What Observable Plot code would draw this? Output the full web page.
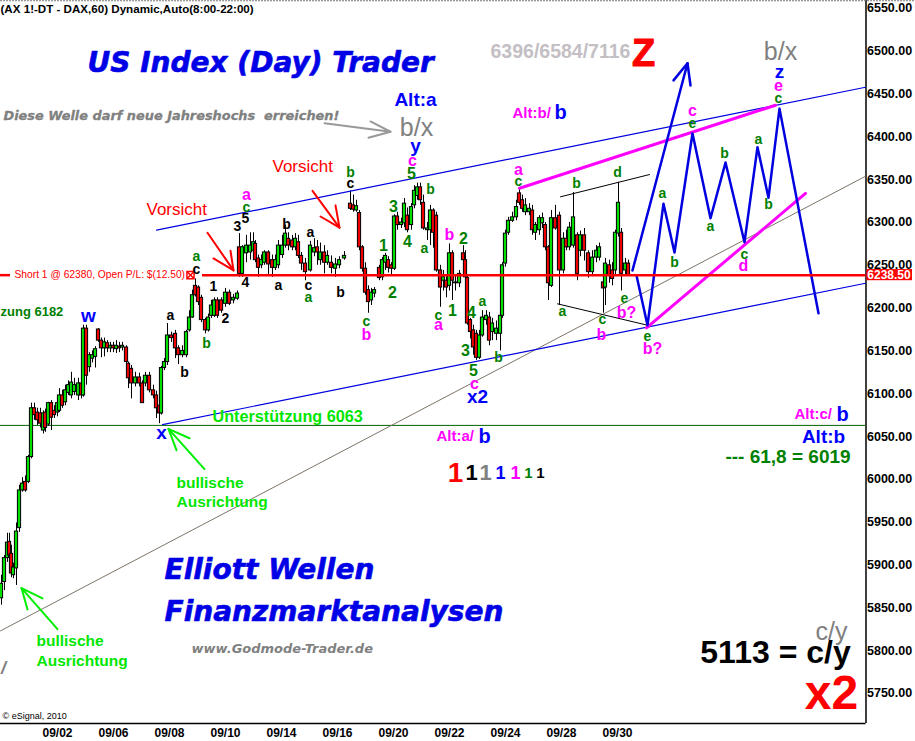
<!DOCTYPE html>
<html><head><meta charset="utf-8">
<script src="https://cdn.jsdelivr.net/npm/d3@7"></script>
<script src="https://cdn.jsdelivr.net/npm/@observablehq/plot@0.6"></script>
<style>html,body{margin:0;padding:0;background:#fff;overflow:hidden}svg{display:block}</style>
</head><body><div id="chart"></div>
<script>
// hourly bars: [bar number, open, high, low, close]
const barsEarly=[[0.5,5861,5888,5853,5878],[2,5880,5911,5870,5908],[3.5,5908,5937,5903,5926],[4.5,5927,5937,5903,5911],[5.5,5913,5923,5885,5890],[6.5,5888,5902,5884,5897],[8,5896,5949,5876,5939],[9.5,5943,5993,5938,5987],[11,5987,6002,5985,5995],[12.5,5997,6004,5985,5987],[14,5997,6028,5995,6026],[15.5,6026,6089,6024,6083],[17,6083,6089,6069,6075],[18.5,6078,6083,6063,6069],[20,6077,6083,6060,6065],[21.5,6057,6080,6053,6077],[22.5,6078,6082,6055,6060],[24,6064,6090,6062,6089],[25.5,6089,6092,6057,6072],[27,6080,6086,6071,6075],[28.5,6078,6095,6073,6089],[29.5,6080,6106,6078,6098],[31,6098,6104,6083,6086],[32.5,6090,6110,6086,6104],[34,6101,6115,6098,6110],[35.5,6098,6125,6094,6113],[37,6102,6118,6098,6110],[39,6098,6118,6092,6112],[40.5,6112,6118,6094,6098],[41.5,6098,6180,6096,6176],[43,6176,6180,6110,6121],[44.5,6131,6148,6125,6145],[46,6141,6150,6136,6145],[47.5,6143,6155,6130,6152],[49,6175,6176,6160,6162],[50.5,6162,6165,6142,6153],[52,6153,6165,6143,6160],[53.5,6159,6162,6148,6153],[55,6153,6160,6148,6156],[56.5,6156,6160,6148,6153],[58,6152,6162,6147,6156],[59.5,6155,6160,6148,6153],[61,6154,6160,6150,6156],[63,6154,6156,6134,6137],[64,6135,6137,6106,6118],[65.5,6129,6133,6094,6112],[67.5,6112,6125,6108,6119],[69.5,6119,6124,6108,6112],[71,6112,6115,6089,6089],[72.5,6112,6125,6108,6121],[74.5,6121,6125,6101,6104],[76.5,6104,6110,6094,6098],[78,6098,6103,6071,6083],[79.5,6086,6092,6065,6077],[80.5,6077,6132,6075,6130],[82,6130,6141,6127,6137],[83.5,6137,6182,6133,6168],[85.5,6168,6172,6160,6165],[87.5,6170,6174,6141,6153],[89,6153,6156,6134,6145],[91,6145,6156,6142,6150],[93,6145,6174,6142,6172],[94.5,6174,6197,6172,6189],[96,6189,6221,6188,6215],[97.5,6226,6234,6213,6215],[99,6224,6226,6203,6207],[100.5,6212,6215,6183,6186],[102.5,6186,6188,6170,6174],[104,6174,6193,6172,6189],[105.5,6191,6209,6188,6203],[107,6191,6212,6189,6209],[108.5,6209,6212,6188,6191],[110.5,6209,6212,6194,6197],[112.5,6205,6223,6201,6218],[114.5,6218,6221,6203,6205],[116.5,6209,6216,6205,6212],[118.5,6211,6220,6209,6217]];
const barsMiddle=[[119.5,6271,6287,6236,6240],[121,6240,6273,6236,6271],[123,6264,6285,6253,6273],[125,6265,6288,6256,6273],[126.5,6267,6288,6265,6277],[127.5,6275,6279,6253,6256],[129,6258,6262,6236,6247],[130.5,6250,6262,6246,6256],[132,6253,6267,6250,6265],[134,6265,6267,6238,6251],[136,6256,6262,6236,6247],[137.5,6247,6262,6244,6256],[139,6250,6279,6246,6273],[141,6262,6285,6258,6273],[142.5,6273,6297,6270,6287],[144,6281,6288,6267,6273],[146,6279,6285,6267,6271],[147.5,6271,6287,6267,6281],[149,6277,6285,6258,6261],[150.5,6261,6265,6244,6252],[152.5,6252,6258,6232,6242],[155,6244,6278,6242,6273],[157,6265,6281,6260,6270],[158.5,6271,6279,6250,6265],[160,6256,6276,6250,6265],[162,6265,6273,6240,6253],[163.5,6253,6267,6250,6261],[165.5,6253,6261,6240,6247],[167.5,6246,6258,6236,6251],[169.5,6250,6260,6246,6256],[172,6258,6266,6256,6261],[175,6322,6337,6314,6316],[176.5,6320,6332,6312,6315],[178,6314,6326,6312,6319],[179.5,6311,6314,6267,6271],[181,6271,6273,6242,6246],[182.5,6246,6253,6215,6218],[184,6221,6226,6194,6207],[185.5,6209,6223,6203,6218],[187,6217,6224,6212,6221],[189.5,6247,6250,6232,6235],[191,6236,6259,6232,6256],[192.5,6253,6264,6244,6261],[194,6256,6260,6241,6247],[195.5,6250,6253,6238,6246],[197,6246,6309,6244,6307],[198.5,6307,6312,6291,6297],[200.5,6297,6305,6293,6300],[202,6299,6328,6294,6322],[203.5,6308,6317,6288,6291],[205.5,6297,6322,6291,6318],[207,6320,6343,6316,6337],[208.5,6331,6346,6326,6341],[210,6341,6346,6320,6326],[211.5,6323,6332,6291,6293],[213.5,6291,6300,6279,6293],[215,6291,6320,6273,6314],[216.5,6314,6316,6270,6288]];
const barsLate=[[218,6308,6312,6242,6244],[220,6244,6250,6201,6224],[221.5,6232,6244,6220,6236],[223,6232,6238,6212,6224],[224.5,6226,6275,6220,6264],[226,6264,6267,6209,6232],[227.5,6229,6238,6220,6230],[229.5,6229,6244,6224,6240],[231.5,6264,6273,6253,6256],[232.5,6256,6267,6232,6236],[233.5,6235,6237,6180,6182],[235,6186,6188,6164,6172],[236.5,6174,6180,6145,6154],[238,6170,6174,6139,6142],[239.5,6142,6174,6140,6168],[241,6168,6197,6166,6189],[243,6186,6197,6180,6191],[244.5,6189,6195,6156,6162],[246,6172,6188,6162,6182],[248,6170,6185,6162,6176],[250,6170,6195,6150,6191],[251,6191,6253,6188,6250],[252.5,6252,6291,6248,6287],[254,6288,6306,6285,6302],[256,6302,6312,6300,6306],[258,6306,6326,6302,6318],[259.5,6334,6340,6320,6323],[261,6326,6332,6312,6316],[262.5,6312,6328,6308,6320],[264.5,6312,6322,6308,6316],[266,6314,6320,6285,6291],[267.5,6288,6300,6279,6297],[269.5,6291,6308,6285,6305],[271,6299,6311,6293,6305],[272.5,6297,6300,6267,6271],[274,6271,6273,6209,6229],[275.5,6226,6314,6224,6305],[277.5,6305,6320,6291,6293],[279.5,6308,6312,6203,6244],[281.5,6244,6288,6240,6281],[283,6281,6291,6267,6271],[284.5,6271,6300,6267,6294],[286.5,6273,6335,6270,6306],[288.5,6285,6288,6232,6240],[290,6267,6290,6260,6285],[292,6285,6293,6255,6267],[294,6264,6267,6235,6242],[296,6242,6267,6238,6259],[298,6259,6273,6253,6267],[299.5,6259,6276,6255,6271],[301.5,6230,6238,6194,6223],[302.5,6224,6258,6203,6252],[304.5,6250,6256,6229,6238],[306,6244,6253,6226,6234],[307.5,6244,6291,6238,6288],[309,6287,6347,6283,6323],[310.5,6288,6293,6220,6240],[312.5,6244,6258,6238,6252],[314,6252,6256,6238,6238]];

const priceTicks=[6550,6500,6450,6400,6350,6300,6250,6200,6150,6100,6050,6000,5950,5900,5850,5800,5750];
const dateBars=[28.5,56.5,84.5,112.5,140.5,168.5,196.5,224.5,252.5,280.5,308.5];
const dateLabels=["09/02","09/06","09/08","09/10","09/14","09/16","09/20","09/22","09/24","09/28","09/30"];
const lastPrice=6238.5, support=6063;

// trend lines, [bar, price]
const channelUpper=[[78,6291],[432.5,6458]];
const channelLower=[[81,6064],[432.5,6229]];
const grayTrend=[[0,5823],[432.5,6354]];
const magentaUpper=[[259.5,6340],[387.5,6437]];
const magentaLower=[[323,6177],[402.5,6334]];
const blackLower=[[278.5,6205],[323.5,6180]];
const blackUpper=[[280,6330],[324.5,6356]];
const forecastUp=[[316,6244],[343.5,6486]];
const forecastHead=[[336.5,6466],[343.5,6486],[345,6460]];
const forecastWave=[[318,6238],[323.5,6180],[331.5,6322],[337,6265],[346,6404],[355,6305],[362.5,6370],[372,6277],[378.5,6388],[384,6329],[389.5,6433],[409,6194]];

// hand-drawn arrows: shaft then head
const redArrowA=[[[103.5,6288],[116.5,6244]],[[106.5,6258],[116.5,6244],[115,6267]]];
const redArrowB=[[[156,6337],[169.5,6294]],[[160,6307],[169.5,6294],[167.5,6320]]];
const greenArrowA=[[[102,6012],[84,6059]],[[94.5,6048],[84,6059],[88,6034]]];
const greenArrowB=[[[28.5,5825],[10.5,5873]],[[21,5861],[10.5,5873],[13.5,5848]]];
const grayArrow=[[[162,6416],[195,6406]],[[185,6418],[195,6406],[184,6399]]];

// wave labels: [bar, price, text]
const blackLetters=[[143,6298,"b"],[155,6288,"a"],[139,6226,"a"],[154,6226,"c"],[170,6218,"b"],[98,6245,"c"],[85,6191,"a"],[92,6125,"b"],[175,6346,"c"]];
const blackDigits=[[118.5,6295,"3"],[122.5,6305,"5"],[122.5,6230,"4"],[106.5,6225,"1"],[112.5,6188,"2"]];
const greenLetters=[[123,6318,"c"],[98,6260,"a"],[103,6159,"b"],[154,6212,"a"],[175,6358,"b"],[183,6184,"c"],[215,6339,"b"],[212,6270,"a"],[219,6191,"c"],[241,6208,"a"],[249,6142,"b"],[259,6348,"c"],[288,6346,"b"],[308.5,6358,"d"],[281,6196,"a"],[301,6187,"c"],[312,6211,"e"],[323.5,6167,"e"],[346,6416,"e"],[331,6334,"a"],[337,6253,"b"],[355,6295,"a"],[362,6381,"b"],[379,6397,"a"],[384,6321,"b"],[372,6263,"c"],[389,6445,"c"]];
const greenDigits=[[191.5,6273,"1"],[196,6218,"2"],[196.5,6318,"3"],[203.5,6277,"4"],[205.5,6357,"5"],[226,6197,"1"],[231.5,6281,"2"],[235.5,6194,"4"],[232.5,6150,"3"],[236.5,6127,"5"]];
const magentaLabels=[[123,6332,"a"],[183,6169,"b"],[206,6372,"c"],[219,6180,"a"],[224.5,6285,"b"],[237,6112,"c"],[259,6362,"a"],[300.5,6169,"b"],[313,6195,"b?"],[326,6152,"b?"],[346,6430,"c"],[371.5,6249,"d"],[389,6459,"e"]];
const blueLabels=[[44,6191,"w"],[80.5,6054,"x"],[238.5,6096,"x2"],[207.5,6390,"y"],[389.5,6476,"z"],[207.5,6443,"Alt:a"],[411.5,6049,"Alt:b"]];
const blueAltB=[[280,6428,"b"],[242,6050,"b"],[421,6076,"b"]];
const magentaAlt=[[256,6428,"Alt:b/"],[218,6050,"Alt:a/"],[397,6076,"Alt:c/"]];
const grayWaves=[[208,6410,"b/x"],[390,6499,"b/x"],[415.5,5822,"c/y"]];
const countOnes=[[227.5,6007,"1","#ff0000",28],[235.5,6007,"1","#000",22],[242.5,6007,"1","#808080",22],[250,6007,"1","#0000ff",18],[257.5,6007,"1","#ff00ff",18],[264,6007,"1","#008000",15],[270,6007,"1","#000",15]];
const greenNotes=[[88,5996,"bullische"],[88,5974,"Ausrichtung"],[18,5811,"bullische"],[18,5788,"Ausrichtung"]];
const supportNote=[[106,6073,"Unterstützung 6063"]];
const vorsichtNotes=[[73,6315,"Vorsicht"],[136,6365,"Vorsicht"]];
const bigTitles=[[43.5,6486,"US Index (Day) Trader"],[82,5894,"Elliott Wellen"],[82,5844.5,"Finanzmarktanalysen"]];

const bars=[...barsEarly,...barsMiddle,...barsLate];
const SANS="Liberation Sans, Arial, sans-serif", WIDE="DejaVu Sans, Verdana, sans-serif";
const labels=(rows,o)=>Plot.text(rows,{x:d=>d[0],y:d=>d[1],text:d=>d[2],lineAnchor:"middle",fontFamily:SANS,fontWeight:"bold",...o});
const path=(rows,o)=>Plot.line(rows,{x:d=>d[0],y:d=>d[1],...o});
const arrow=(parts,o)=>parts.map(p=>path(p,o));

const chart=Plot.plot({
  width:915,height:741,marginTop:0,marginBottom:18,marginLeft:0,marginRight:49.5,
  style:{background:"#fff",fontFamily:SANS},
  x:{domain:[0,432.75]},y:{domain:[5714.8,6559.3]},
  marks:[
    Plot.ruleX([432.75],{stroke:"#000",strokeWidth:1.5}),
    Plot.ruleY([5714.8],{stroke:"#000",strokeWidth:1.5}),
    Plot.ruleY([6559],{x1:0,x2:457.5,stroke:"#777",strokeDasharray:"2,1"}),
    Plot.axisY({anchor:"right",ticks:priceTicks,tickFormat:d=>d.toFixed(2),tickSize:0,tickPadding:1,label:null,fontSize:12.5,fontWeight:"bold",fill:"#000"}),
    Plot.axisX({anchor:"bottom",ticks:dateBars,tickFormat:d=>dateLabels[dateBars.indexOf(d)],tickSize:0,tickPadding:5,label:null,fontSize:12,fontWeight:"bold",fill:"#000"}),
    Plot.ruleY([support],{x1:0,x2:432.75,stroke:"#006400",strokeWidth:1}),
    path(grayTrend,{stroke:"#7d7468",strokeWidth:1}),
    Plot.ruleX(bars,{x:d=>d[0],y1:d=>d[3],y2:d=>d[2],stroke:"#000",strokeWidth:1}),
    Plot.rect(bars,{x1:d=>d[0]-0.8,x2:d=>d[0]+0.8,y1:d=>d[1],y2:d=>d[4],fill:d=>d[4]>=d[1]?"#00e000":"#f00000",stroke:"#000",strokeWidth:1}),
    path(channelUpper,{stroke:"#0000e0",strokeWidth:1.2}),
    path(channelLower,{stroke:"#0000e0",strokeWidth:1.2}),
    path(blackLower,{stroke:"#000",strokeWidth:1}),
    path(blackUpper,{stroke:"#000",strokeWidth:1}),
    path(magentaUpper,{stroke:"#ff00ff",strokeWidth:3}),
    path(magentaLower,{stroke:"#ff00ff",strokeWidth:3}),
    path(forecastUp,{stroke:"#0000e0",strokeWidth:2.5}),
    path(forecastHead,{stroke:"#0000e0",strokeWidth:2.5}),
    path(forecastWave,{stroke:"#0000e0",strokeWidth:2.5}),
    ...arrow(redArrowA,{stroke:"#ff0000",strokeWidth:2}),
    ...arrow(redArrowB,{stroke:"#ff0000",strokeWidth:2}),
    ...arrow(greenArrowA,{stroke:"#00ee00",strokeWidth:2}),
    ...arrow(greenArrowB,{stroke:"#00ee00",strokeWidth:2}),
    ...arrow(grayArrow,{stroke:"#999",strokeWidth:2}),
    Plot.ruleY([lastPrice],{x1:101,x2:432.75,stroke:"#ff0000",strokeWidth:2.5}),
    Plot.ruleY([lastPrice],{x1:0,x2:5,stroke:"#ff0000",strokeWidth:2.5}),
    Plot.rect([lastPrice],{x1:433.2,x2:456,y1:d=>d-6.5,y2:d=>d+6.5,fill:"#ff0000"}),
    Plot.text([lastPrice],{x:433.4,y:d=>d,text:d=>d.toFixed(2),fill:"#fff",textAnchor:"start",lineAnchor:"middle",fontFamily:SANS,fontWeight:"bold",fontSize:12}),
    labels([[7,6238.5,"Short 1 @ 62380, Open P/L: $(12.50)"]],{fill:"#ff0000",textAnchor:"start",fontWeight:"normal",fontSize:10.25}),
    Plot.dot([[95,6238.5]],{x:d=>d[0],y:d=>d[1],symbol:"square",r:4,stroke:"#ff0000",fill:"none"}),
    Plot.dot([[95,6238.5]],{x:d=>d[0],y:d=>d[1],symbol:"times",r:3,stroke:"#ff0000",fill:"none"}),
    labels(blackLetters,{fill:"#000",fontSize:14}),
    labels(blackDigits,{fill:"#000",fontSize:14}),
    labels(greenLetters,{fill:"#008000",fontSize:14}),
    labels(greenDigits,{fill:"#008000",fontSize:16}),
    labels(magentaLabels,{fill:"#ff00ff",fontSize:16}),
    labels(blueLabels,{fill:"#0000ff",fontSize:19}),
    labels(blueAltB,{fill:"#0000ff",fontSize:20}),
    labels(magentaAlt,{fill:"#ff00ff",fontSize:15,textAnchor:"start"}),
    labels(grayWaves,{fill:"#808080",fontSize:25,fontWeight:"normal"}),
    labels(countOnes,{fill:d=>d[3],fontSize:d=>d[4]}),
    labels(greenNotes,{fill:"#00e600",fontSize:15.5,textAnchor:"start"}),
    labels(supportNote,{fill:"#00e600",fontSize:16.2,textAnchor:"start"}),
    labels([[0,6196,"zung 6182"]],{fill:"#008000",fontSize:13,textAnchor:"start"}),
    labels(vorsichtNotes,{fill:"#ff0000",fontSize:17,fontWeight:"normal",textAnchor:"start"}),
    labels(bigTitles,{fill:"#0000e6",fontSize:28,fontStyle:"italic",fontFamily:WIDE,textAnchor:"start",stroke:"#0000e6",strokeWidth:0.6}),
    labels([[1.5,6424,"Diese Welle darf neue Jahreshochs  erreichen!"]],{fill:"#808080",fontSize:12.9,fontStyle:"italic",fontFamily:WIDE,textAnchor:"start",stroke:"#808080",strokeWidth:0.3}),
    labels([[95.5,5802.4,"www.Godmode-Trader.de"]],{fill:"#808080",fontSize:13,fontStyle:"italic",fontFamily:WIDE,textAnchor:"start"}),
    labels([[1.5,5779,"/"]],{fill:"#808080",fontSize:18,fontStyle:"italic"}),
    labels([[245,6499,"6396/6584/7116"]],{fill:"#c4bfc4",fontSize:19.5,textAnchor:"start"}),
    labels([[321.5,6497,"Z"]],{fill:"#ff0000",fontSize:38,stroke:"#ff0000",strokeWidth:1}),
    labels([[415.5,5750,"x2"]],{fill:"#ff0000",fontSize:48}),
    labels([[387.5,5797,"5113 = c/y"]],{fill:"#000",fontSize:32}),
    labels([[393.75,6026,"--- 61,8 = 6019"]],{fill:"#008000",fontSize:19}),
    labels([[0,6549,"(AX 1!-DT - DAX,60) Dynamic,Auto(8:00-22:00)"]],{fill:"#000",fontSize:11.6,textAnchor:"start"}),
    labels([[1,5723,"© eSignal, 2010"]],{fill:"#000",fontSize:9,fontWeight:"normal",textAnchor:"start"})
  ]
});
document.getElementById("chart").append(chart);
</script></body></html>
